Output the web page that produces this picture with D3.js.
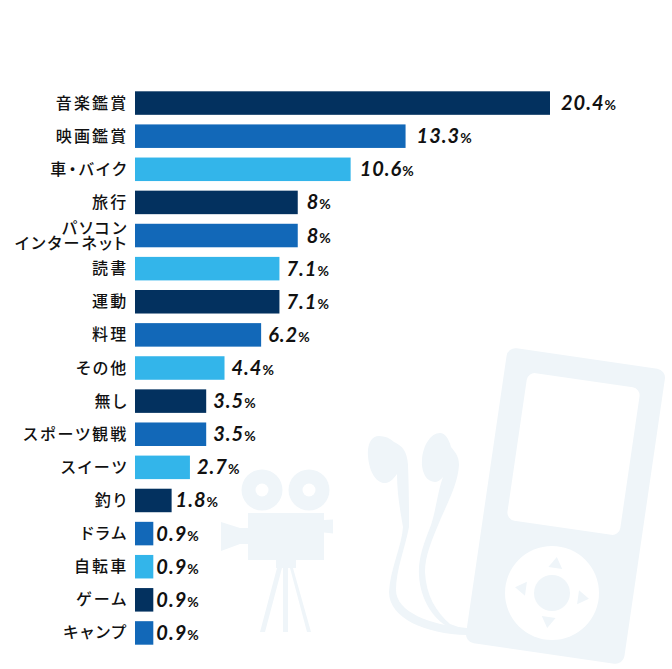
<!DOCTYPE html>
<html>
<head>
<meta charset="utf-8">
<script src="https://cdn.jsdelivr.net/npm/d3@7"></script>
<style>
  html, body { margin: 0; padding: 0; background: #fff; }
  svg { display: block; }
  .cat { font-family: "Noto Sans CJK JP"; font-size: 16px; font-weight: 500; fill: #111; letter-spacing: 2.2px; font-feature-settings: "palt"; }
  .val { font-family: Lato; font-size: 20px; font-weight: 700; font-style: italic; fill: #111; letter-spacing: 1px; }
  .val .pct { font-size: 14px; font-style: normal; font-weight: 700; letter-spacing: 0; }
</style>
</head>
<body>
<script>
var categories = ['音楽鑑賞', '映画鑑賞', '車・バイク', '旅行', 'パソコン\nインターネット', '読書', '運動', '料理',
    'その他', '無し', 'スポーツ観戦', 'スイーツ', '釣り', 'ドラム', '自転車', 'ゲーム', 'キャンプ'];
var values = [20.4, 13.3, 10.6, 8, 8, 7.1, 7.1, 6.2, 4.4, 3.5, 3.5, 2.7, 1.8, 0.9, 0.9, 0.9, 0.9];
var barColors = ['#03315f', '#1268b8', '#33b5ea'];

var width = 672, height = 669;
var iconColor = '#eff5f9';

var svg = d3.select('body').append('svg')
    .attr('width', width)
    .attr('height', height);

// Background icons, purely decorative
var drawPlayer = function(g) {
    g.append('rect')
        .attr('x', 485.5).attr('y', 357).attr('width', 160).attr('height', 298).attr('rx', 9)
        .attr('transform', 'rotate(8.3 565.5 506)')
        .attr('fill', iconColor);
    g.append('rect')
        .attr('x', 516.5).attr('y', 379.5).attr('width', 114).attr('height', 149).attr('rx', 8)
        .attr('transform', 'rotate(8.3 573.5 454)')
        .attr('fill', '#fff');
    g.append('circle').attr('cx', 552).attr('cy', 593).attr('r', 47).attr('fill', '#fff');
    g.append('circle').attr('cx', 552).attr('cy', 593).attr('r', 18).attr('fill', iconColor);
    [[556, 563, 8], [583, 598, 98], [548, 622, 188], [521, 588, 278]].forEach(function(t) {
        g.append('path')
            .attr('d', 'M0,-6L7,5L-7,5Z')
            .attr('transform', 'translate(' + t[0] + ',' + t[1] + ') rotate(' + t[2] + ')')
            .attr('fill', iconColor);
    });
};

var drawEarphones = function(g) {
    g.append('path')
        .attr('fill', iconColor)
        .attr('d', 'M379,436C371,436 367,445 368,456C369,471 376,484 386,483C391,482 394,478 397,474' +
            'C397,495 401,515 403,527C402,545 390,570 389,592C389,618 425,634 467,635L467,628' +
            'C430,625 396,612 396,590C396,570 405,548 409,527C409,510 409,490 408,465' +
            'C407,450 402,446 394,442C390,438 385,436 379,436Z');
    g.append('path')
        .attr('fill', iconColor)
        .attr('d', 'M440,433C431,433 423,445 422,460C421,473 427,482 435,482C437,482 441,480 443,477' +
            'C438,490 436,510 431,525C423,545 418,560 419,575C420,600 435,622 451,628L467,630L450,624' +
            'C436,612 426,595 425,572C425,555 432,540 441,518C450,498 458,482 459,465' +
            'C459,456 455,452 451,447C449,439 445,433 440,433Z');
};

var drawCamera = function(g) {
    [[262, 490], [309, 490]].forEach(function(c) {
        g.append('circle').attr('cx', c[0]).attr('cy', c[1]).attr('r', 20.5).attr('fill', iconColor);
        g.append('circle').attr('cx', c[0]).attr('cy', c[1]).attr('r', 6.5).attr('fill', '#fff');
    });
    g.append('path')
        .attr('fill', iconColor)
        .attr('d', 'M248,513H324V520L333,519.500V533.500L324,532.500V560H296V568H293L311,632H307L290,568H288V632H283V568H282' +
            'L265,632H260L277,568H276V560H248V544H240L221,551V522L240,528H248Z');
};

var icons = svg.append('g').attr('class', 'icons');
drawPlayer(icons);
drawEarphones(icons);
drawCamera(icons);

// Scales
var x = d3.scaleLinear().domain([0, 20.4]).range([135, 550]);
var y = d3.scaleBand().domain(categories).range([86.5, 649.5]).paddingInner(0.29).paddingOuter(0.145);
var color = d3.scaleOrdinal().domain(d3.range(3)).range(barColors);

var data = categories.map(function(name, i) {
    return { name: name, value: values[i], index: i };
});

// The labels sit closer to the short bars in the original
var labelGap = function(v) {
    if (v < 1) { return 3; }
    if (v < 2) { return 4; }
    if (v < 8) { return 7; }
    return v < 11 ? 9 : 11;
};

var rows = svg.append('g').selectAll('g')
    .data(data)
    .enter().append('g');

rows.append('rect')
    .attr('x', x(0))
    .attr('y', function(d) { return y(d.name); })
    .attr('width', function(d) { return x(d.value) - x(0); })
    .attr('height', y.bandwidth())
    .attr('fill', function(d) { return color(d.index % 3); });

rows.append('text')
    .attr('class', 'cat')
    .attr('text-anchor', 'end')
    .each(function(d) {
        var lines = d.name.split('\n');
        var mid = y(d.name) + y.bandwidth() / 2;
        var top = mid - (lines.length - 1) * 7.5;
        d3.select(this).selectAll('tspan')
            .data(lines)
            .enter().append('tspan')
            .attr('x', 128.5)
            .attr('y', function(line, i) { return top + i * 15 + 5.5; })
            .text(function(line) { return line; });
    });

var vals = rows.append('text')
    .attr('class', 'val')
    .attr('x', function(d) { return x(d.value) + labelGap(d.value); })
    .attr('y', function(d) { return y(d.name) + y.bandwidth() / 2 + 7; });
vals.append('tspan').text(function(d) { return String(d.value); });
vals.append('tspan').attr('class', 'pct').text('%');
</script>
</body>
</html>
